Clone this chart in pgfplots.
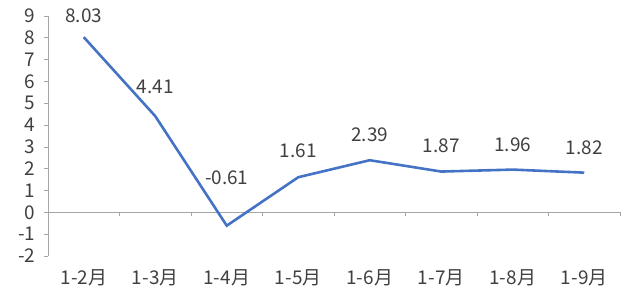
\documentclass[border=0pt]{standalone}
\usepackage{pgfplots}
\usepackage{pgfplotstable}
\pgfplotsset{compat=1.18}
\usepackage{fontspec}
\setmainfont{Noto Sans CJK SC}
\definecolor{lineblue}{HTML}{4472C4}
\definecolor{txt}{HTML}{404040}
\definecolor{axgray}{HTML}{A6A6A6}
\pgfplotstableread{
x y ly lab
1 8.03 9.0 8.03
2 4.41 5.73 4.41
3 -0.61 1.6 -0.61
4 1.61 2.84 1.61
5 2.39 3.58 2.39
6 1.87 3.07 1.87
7 1.96 3.12 1.96
8 1.82 2.98 1.82
}\datatable
\begin{document}
\begin{tikzpicture}
\useasboundingbox (0,0) rectangle (640bp,306bp);
\begin{axis}[
  at={(48bp,50bp)}, anchor=south west,
  scale only axis, width=572bp, height=240bp,
  xmin=0.5, xmax=8.5, ymin=-2, ymax=9,
  axis x line*=bottom, axis y line*=left,
  x axis line style={draw=none},
  y axis line style={axgray, line width=0.8pt},
  xtick={1,...,8},
  xticklabels={1-2月,1-3月,1-4月,1-5月,1-6月,1-7月,1-8月,1-9月},
  x tick style={draw=none},
  xticklabel style={yshift=-6bp},
  ytick={-2,...,9},
  y tick style={axgray, line width=0.8pt},
  tick align=outside, major tick length=4bp,
  /pgf/number format/assume math mode=true,
  ticklabel style={font=\fontsize{19}{22}\selectfont, text=txt},
  yticklabel style={xshift=-5bp},
  clip=false,
]
\draw[axgray, line width=0.8pt] (axis cs:0.5,0) -- (axis cs:8.5,0);
\pgfplotsinvokeforeach{0.5,1.5,2.5,3.5,4.5,5.5,6.5,7.5,8.5}{\draw[axgray, line width=0.8pt] (axis cs:#1,0) -- ([yshift=-4bp]axis cs:#1,0);}
\addplot[lineblue, line width=2.6pt, mark=none] table[x=x, y=y] {\datatable};
\addplot[draw=none, mark=none, nodes near coords, point meta=explicit symbolic,
  every node near coord/.append style={font=\fontsize{19}{22}\selectfont, text=txt, anchor=center, inner sep=0pt},
] table[x=x, y=ly, meta=lab] {\datatable};
\end{axis}
\end{tikzpicture}
\end{document}
